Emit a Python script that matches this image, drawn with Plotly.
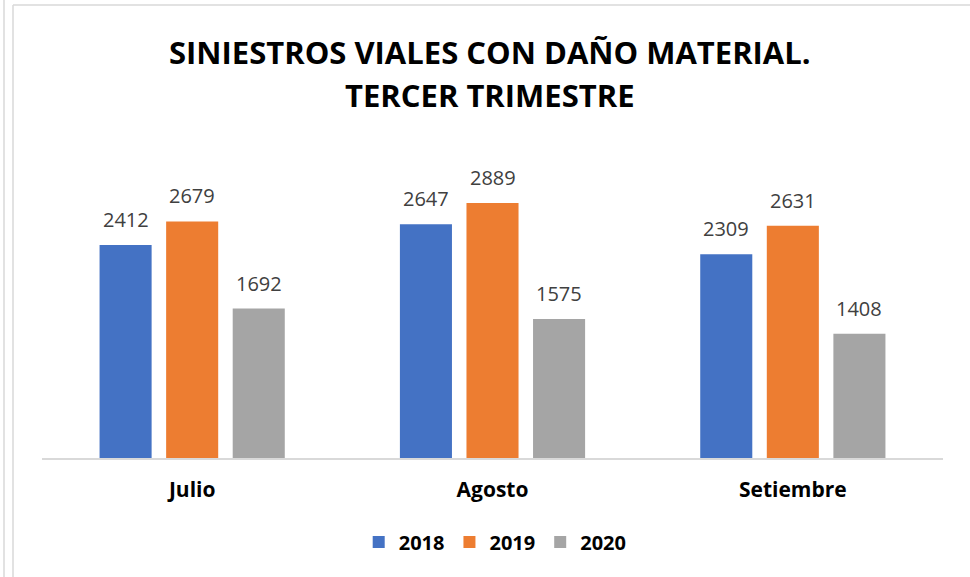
import plotly.graph_objects as go

categories = ["Julio", "Agosto", "Setiembre"]
years = ["2018", "2019", "2020"]
values_2018 = [2412, 2647, 2309]
values_2019 = [2679, 2889, 2631]
values_2020 = [1692, 1575, 1408]
colors = ["#4472C4", "#ED7D31", "#A5A5A5"]
title_lines = ["SINIESTROS VIALES CON DAÑO MATERIAL.", "TERCER TRIMESTRE"]

series = [values_2018, values_2019, values_2020]
FONT = "Open Sans"

fig = go.Figure()
for name, vals, col in zip(years, series, colors):
    fig.add_trace(go.Bar(x=categories, y=vals, name=name, marker=dict(color=col, line=dict(width=0))))

# data labels
offsets = [-66.5, 0, 66.5]
for vals, off in zip(series, offsets):
    for c, v in zip(categories, vals):
        fig.add_annotation(x=c, y=v, text=str(v), showarrow=False, xshift=off,
                           yanchor="bottom", yshift=10,
                           font=dict(family=FONT, size=20, color="#404040"))

# title
fig.add_annotation(xref="paper", yref="paper", x=0.4975, y=(458 - 52) / 309, text=title_lines[0],
                   showarrow=False, xanchor="center", yanchor="middle",
                   font=dict(family=FONT, size=31, color="#000000", weight="bold"))
fig.add_annotation(xref="paper", yref="paper", x=0.4975, y=(458 - 95) / 309, text=title_lines[1],
                   showarrow=False, xanchor="center", yanchor="middle",
                   font=dict(family=FONT, size=31, color="#000000", weight="bold"))

# chart border lines
border = "#D9D9D9"
fig.add_shape(type="line", xref="paper", yref="paper", x0=(4 - 42) / 901, x1=(4 - 42) / 901,
              y0=-0.5, y1=2, line=dict(color=border, width=1.5))
fig.add_shape(type="line", xref="paper", yref="paper", x0=(13 - 42) / 901, x1=(13 - 42) / 901,
              y0=-0.5, y1=(458 - 5) / 309, line=dict(color=border, width=1.5))
fig.add_shape(type="line", xref="paper", yref="paper", x0=(13 - 42) / 901, x1=1.1,
              y0=(458 - 5) / 309, y1=(458 - 5) / 309, line=dict(color=border, width=1.5))

fig.update_layout(
    width=970, height=577,
    margin=dict(l=42, r=27, t=149, b=119),
    paper_bgcolor="white", plot_bgcolor="white",
    barmode="group", bargap=0.335, bargroupgap=0.218,
    font=dict(family=FONT),
    showlegend=True,
    legend=dict(orientation="h", x=0.503, xanchor="center", y=(458 - 542) / 309, yanchor="middle",
                font=dict(family=FONT, size=20, color="#000000", weight="bold"),
                itemwidth=30, traceorder="normal"),
    xaxis=dict(showline=True, linecolor="#D9D9D9", linewidth=2, ticks="", showgrid=False,
               tickfont=dict(family=FONT, size=21, color="#000000", weight="bold"),
               ticklabelstandoff=12),
    yaxis=dict(range=[0, 3500], visible=False, showgrid=False),
)

fig.write_html("out.html", config={"displayModeBar": False},
               post_script="document.body.style.margin='0px';")
